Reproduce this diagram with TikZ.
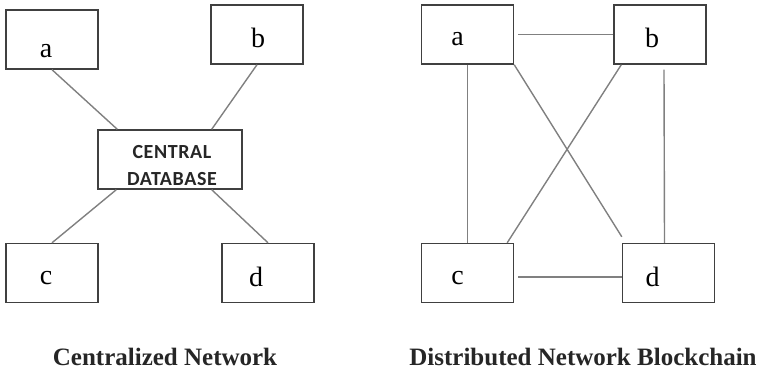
\documentclass[tikz,border=0pt]{standalone}
\usepackage{fontspec}
\setmainfont{Liberation Serif}
\newfontfamily\dbfont[LetterSpace=3]{Carlito}
\usetikzlibrary{positioning}

\begin{document}
\begin{tikzpicture}[x=1pt,y=-1pt,
    box/.style={draw=black!75, line width=1.4pt, minimum width=92pt, minimum height=59pt, inner sep=0pt},
    tag/.style={font=\fontsize{28}{30}\selectfont, inner sep=0pt},
    link/.style={draw=black!50, line width=1.4pt},
    caption/.style={font=\fontsize{25}{28}\selectfont\bfseries, text=black!85}]
  \useasboundingbox (0,0) rectangle (763,370);
  % centralized network
  \node [box, label={[tag, xshift=-6pt, yshift=-12pt]center:a}] (a1) at (52,39.5) {};
  \node [box, label={[tag, xshift=1pt, yshift=-3pt]center:b}] (b1) at (257,34.5) {};
  \node [box, label={[tag, xshift=-6pt, yshift=-5pt]center:c}] (c1) at (52,273) {};
  \node [box, label={[tag, xshift=-12pt, yshift=-4pt]center:d}] (d1) at (268,273) {};
  \node [box, minimum width=144pt,
         label={[align=center, text=black!85, xshift=2pt, yshift=-6pt,
                 font=\dbfont\bfseries\fontsize{20}{27}\selectfont]center:{CENTRAL\\DATABASE}}] (db) at (170,159.5) {};
  \draw [link] (a1.south) -- ([xshift=20pt]db.north west);
  \draw [link] (b1.south) -- ([xshift=-31pt]db.north east);
  \draw [link] ([xshift=19pt]db.south west) -- (c1.north);
  \draw [link] ([xshift=-31pt]db.south east) -- (d1.north);
  \node [caption] (cap1) at (165,357) {Centralized Network};
  % distributed network
  \node [box, label={[tag, xshift=-10pt, yshift=-5pt]center:a}] (a2) at (467.5,34.5) {};
  \node [box, label={[tag, xshift=-8pt, yshift=-3pt]center:b}] (b2) at (660,34.5) {};
  \node [box, label={[tag, xshift=-10pt, yshift=-5pt]center:c}] (c2) at (467.5,273) {};
  \node [box, label={[tag, xshift=-16pt, yshift=-4pt]center:d}] (d2) at (668.5,273) {};
  \draw [link] ([xshift=4pt]a2.east) -- (b2.west);
  \draw [link] (a2.south) -- (c2.north);
  \draw [link] ([xshift=4pt,yshift=-5pt]b2.south) -- ([xshift=-4pt]d2.north);
  \draw [link] (a2.south east) -- ([yshift=6pt]d2.north west);
  \draw [link] ([xshift=-7pt]c2.north east) -- ([xshift=8pt]b2.south west);
  \draw [link] ([xshift=4pt,yshift=-4pt]c2.east) -- ([yshift=-4pt]d2.west);
  \node [caption] (cap2) at (583,357) {Distributed Network Blockchain};
\end{tikzpicture}
\end{document}
